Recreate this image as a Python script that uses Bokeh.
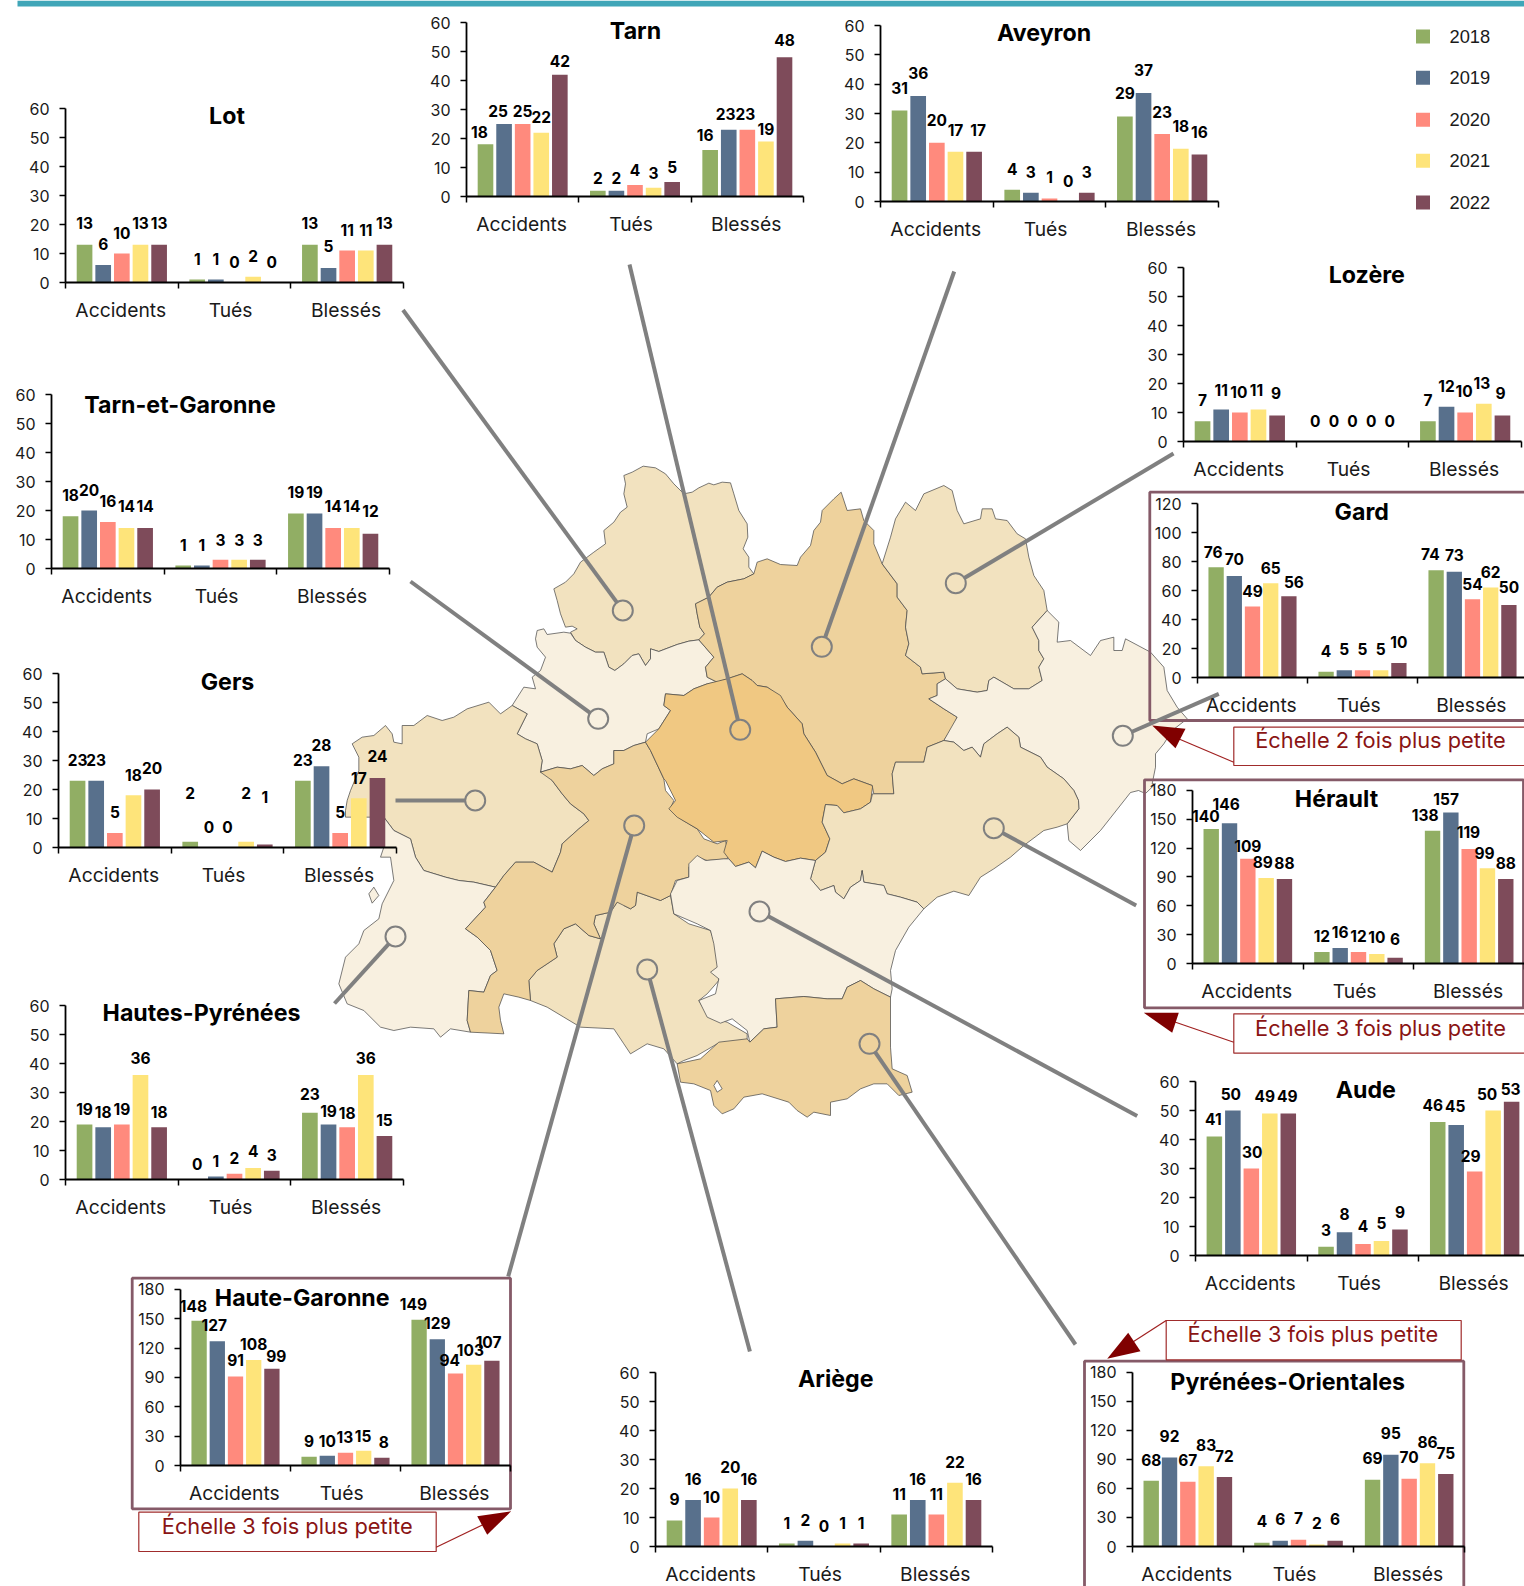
from bokeh.embed import file_html
from bokeh.resources import INLINE
from bokeh.layouts import column
from bokeh.plotting import figure
from bokeh.models import (ColumnDataSource, FixedTicker, Label, LabelSet, Range1d)
from bokeh.core.properties import value

CATEGORIES = ["Accidents", "Tués", "Blessés"]
YEARS = ["2018", "2019", "2020", "2021", "2022"]
YEAR_COLORS = ["#91AE64", "#58708C", "#FF8A7D", "#FEE47A", "#7E4B5A"]

LOT_A = [13, 6, 10, 13, 13];      LOT_T = [1, 1, 0, 2, 0];        LOT_B = [13, 5, 11, 11, 13]
TARN_A = [18, 25, 25, 22, 42];    TARN_T = [2, 2, 4, 3, 5];       TARN_B = [16, 23, 23, 19, 48]
AVEY_A = [31, 36, 20, 17, 17];    AVEY_T = [4, 3, 1, 0, 3];       AVEY_B = [29, 37, 23, 18, 16]
LOZE_A = [7, 11, 10, 11, 9];      LOZE_T = [0, 0, 0, 0, 0];       LOZE_B = [7, 12, 10, 13, 9]
TEGA_A = [18, 20, 16, 14, 14];    TEGA_T = [1, 1, 3, 3, 3];       TEGA_B = [19, 19, 14, 14, 12]
GERS_A = [23, 23, 5, 18, 20];     GERS_T = [2, 0, 0, 2, 1];       GERS_B = [23, 28, 5, 17, 24]
HAPY_A = [19, 18, 19, 36, 18];    HAPY_T = [0, 1, 2, 4, 3];       HAPY_B = [23, 19, 18, 36, 15]
GARD_A = [76, 70, 49, 65, 56];    GARD_T = [4, 5, 5, 5, 10];      GARD_B = [74, 73, 54, 62, 50]
HERA_A = [140, 146, 109, 89, 88]; HERA_T = [12, 16, 12, 10, 6];   HERA_B = [138, 157, 119, 99, 88]
AUDE_A = [41, 50, 30, 49, 49];    AUDE_T = [3, 8, 4, 5, 9];       AUDE_B = [46, 45, 29, 50, 53]
HAGA_A = [148, 127, 91, 108, 99]; HAGA_T = [9, 10, 13, 15, 8];    HAGA_B = [149, 129, 94, 103, 107]
ARIE_A = [9, 16, 10, 20, 16];     ARIE_T = [1, 2, 0, 1, 1];       ARIE_B = [11, 16, 11, 22, 16]
PYOR_A = [68, 92, 67, 83, 72];    PYOR_T = [4, 6, 7, 2, 6];       PYOR_B = [69, 95, 70, 86, 75]

# layout of the value labels: height above the bar and sideways shift, in pixels
LABEL_DY = {
    "Lot": [22, 21, 21, 22, 22, 21, 21, 21, 21, 21, 22, 22, 21, 21, 22],
    "Tarn": [12, 13, 13, 16, 14, 13, 13, 15, 15, 15, 15, 16, 16, 12.5, 17],
    "Aveyron": [23, 23, 23, 22, 22, 20.5, 21, 22, 21, 21, 23, 23, 22, 23, 23],
    "Lozère": [21, 20, 21, 20, 22, 21, 21, 21, 21, 21, 21, 21, 22, 21, 22],
    "Tarn-et-Garonne": [21, 21, 21, 22, 22, 21, 21, 20, 20, 20, 21.5, 21.5, 22, 22, 22.5],
    "Gers": [21, 21, 21, 20, 22, 49, 21, 21, 49, 48, 21, 21, 21, 20, 22],
    "Hautes-Pyrénées": [15.5, 15, 15.5, 17, 15, 16, 16, 16, 16.5, 16, 19, 13.5, 14, 17, 16],
    "Gard": [15.3, 16.7, 15, 15.7, 14, 21, 21.7, 21.7, 21.7, 21, 16, 16.7, 15, 16, 18],
    "Hérault": [13, 18.7, 12.3, 16, 15.7, 16.3, 16, 16, 16.7, 18.7, 16.3, 14, 16.7, 15, 15.7],
    "Aude": [17.5, 16.7, 17, 17.5, 17.5, 17, 18, 17.5, 17.7, 17, 17, 19, 15, 16.7, 13],
    "Haute-Garonne": [14.3, 16.3, 16.7, 16, 12.3, 15.3, 15, 15.7, 15.3, 15.3, 15.7, 16, 13.7, 14.3, 18.7],
    "Ariège": [21, 21, 21, 22, 21, 21, 21, 21, 21, 21, 20.5, 21, 20.5, 21, 21],
    "Pyrénées-Orientales": [20.7, 21.7, 21.3, 21.7, 21, 21.7, 21.7, 21.3, 21.7, 21.7, 21.3, 21.7, 21.7, 21, 20.7],
}
LABEL_DX = {
    "Tarn": {0: -6, 1: -6, 10: -5, 11: -3, 12: -2},
    "Aveyron": {4: 4},
    "Lozère": {2: -1, 3: -2, 4: -1, 12: -1, 13: -2, 14: -2},
    "Gard": {0: -3, 4: 5, 10: -5.7},
    "Hérault": {0: -5.3, 1: -3.3, 3: -3.3, 10: -7.3, 11: -4.7, 12: -0.7, 13: -3},
    "Aude": {0: -1, 1: -2, 2: 1, 3: -5, 4: -1, 10: -5, 11: -1, 12: -4, 13: -6, 14: -1},
    "Haute-Garonne": {0: -5.7, 1: -3, 4: 4.3, 7: -0.7, 8: -0.7, 9: 2, 10: -5.7, 12: -5.7, 13: -3.3, 14: -3.3},
}

Z1, Z2, Z3, Z4 = (330, 450), (780, 450), (330, 780), (660, 780)
def z(o, pts):
    return [(o[0] + a / 3, o[1] + b / 3) for a, b in pts]

LOT_SHAPE = z(Z1, [(880,75),(905,65),(938,47),(975,52),(1005,70),(1030,100),(1060,130),(1085,125),(1105,112),(1135,98),(1150,103),(1175,95),(1200,97),(1210,130),(1225,180),(1250,220),(1252,260),(1238,295),(1255,320),(1255,350),(1270,370),(1240,385),(1190,395),(1160,410),(1135,440),(1095,460),(1100,490),(1108,530),(1122,550),(1105,568),(1075,572),(1040,582),(1000,597),(985,603),(960,595),(960,625),(945,645),(925,610),(905,615),(880,640),(853,660),(835,650),(820,605),(795,605),(765,590),(735,570),(720,545),(740,535),(725,527),(705,530),(690,490),(680,450),(670,415),(705,395),(730,370),(750,335),(790,305),(825,280),(820,240),(850,215),(870,185),(890,170),(880,130),(885,100)])
TEGA_SHAPE = z(Z1, [(620,540),(640,535),(650,552),(700,545),(720,548),(735,570),(765,590),(795,605),(820,605),(835,650),(853,660),(880,640),(905,615),(925,610),(945,645),(960,625),(960,595),(985,603),(1040,582),(1075,572),(1105,568),(1150,620),(1125,650),(1130,680),(1160,695),(1130,700),(1090,715),(1060,735),(1005,730),(1000,765),(1020,780),(985,835),(950,850),(945,875),(910,885),(880,900),(850,900),(850,940),(815,955),(790,975),(755,945),(720,955),(680,950),(630,965),(635,930),(620,880),(585,865),(560,850),(590,790),(545,765),(580,710),(615,715),(605,680),(630,660),(645,620),(620,590),(615,565)])
TARN_SHAPE = z(Z1, [(1005,730),(1060,735),(1090,715),(1130,700),(1190,685),(1235,670),(1265,690),(1280,705),(1310,710),(1350,735)]) + z(Z2, [(20,770),(65,820),(70,850),(105,905),(140,975),(185,1000),(220,985),(275,1005)]) + z(Z4, [(636,20),(630,65),(600,85),(550,97),(530,75),(495,72),(485,125),(508,175),(495,215),(465,240),(420,233),(375,243),(340,230),(305,212),(285,262),(265,245),(225,258),(205,235),(190,215),(200,180),(160,185),(110,145),(50,110),(25,85),(45,60),(25,20),(15,0)]) + z(Z1, [(1000,985),(960,900),(945,875),(985,835),(1020,780),(1000,765)])
AVEY_SHAPE = z(Z1, [(1270,370),(1280,335),(1310,325),(1350,342)]) + z(Z2, [(50,345),(60,320),(90,285),(100,240),(120,215),(125,180),(160,145),(182,125),(200,180),(240,175),(250,210),(280,240),(280,280),(305,340),(350,400),(350,440),(380,480),(375,530),(385,580),(375,615),(420,650),(425,670),(490,665),(495,685),(470,700),(470,735),(445,745),(490,775),(530,800),(520,825),(490,870),(440,890),(430,935),(345,935),(335,970),(340,1030),(280,1030),(275,1005),(220,985),(185,1000),(140,975),(105,905),(70,850),(65,820),(20,770),(0,740)]) + z(Z1, [(1310,710),(1280,705),(1265,690),(1235,670),(1190,685),(1160,695),(1130,680),(1125,650),(1150,620),(1105,568),(1122,550),(1108,530),(1100,490),(1095,460),(1135,440),(1160,410),(1190,395),(1240,385)])
LOZE_SHAPE = z(Z2, [(305,340),(330,260),(345,205),(375,155),(405,180),(430,130),(490,105),(515,120),(530,180),(550,220),(600,205),(605,175),(635,175),(645,205),(680,210),(710,250),(735,265),(745,320),(760,375),(790,420),(800,480),(755,530),(775,570),(775,600),(790,625),(775,650),(785,690),(745,715),(700,715),(640,680),(625,690),(620,720),(590,725),(530,715),(495,685),(490,665),(425,670),(420,650),(375,615),(385,580),(375,530),(380,480),(350,440),(350,400)])
GARD_SHAPE = z(Z2, [(800,480),(835,515),(830,575),(870,570),(930,615),(960,570),(1000,560),(1000,600),(1025,600),(1035,565),(1110,605),(1150,650),(1160,720),(1190,770),(1220,805),(1175,840),(1150,880),(1125,910),(1125,950),(1115,1000)]) + z(Z4, [(1485,10),(1455,39),(1434,30),(1410,36),(1320,150),(1260,210),(1225,180),(1220,130),(1255,85),(1254,60)]) + z(Z2, [(880,1020),(850,985),(800,950),(780,920),(720,890),(715,860),(680,830),(650,850),(610,880),(600,920),(575,890),(550,900),(520,875),(490,870),(530,800),(490,775),(445,745),(470,735),(470,700),(495,685),(530,715),(590,725),(620,720),(625,690),(640,680),(700,715),(745,715),(785,690),(775,650),(790,625),(775,600),(775,570),(755,530)])
HERA_SHAPE = z(Z2, [(490,870),(520,875),(550,900),(575,890),(600,920),(610,880),(650,850),(680,830),(715,860),(720,890),(780,920),(800,950),(850,985),(880,1020)]) + z(Z4, [(1254,60),(1255,85),(1220,130),(1190,140),(1150,150),(1090,195),(1050,230),(1000,265),(960,290),(925,345),(880,332),(830,350),(790,385),(770,365),(720,350),(680,340),(670,315),(610,305),(605,270),(600,300),(570,320),(550,355),(525,335),(520,315),(480,330),(450,295),(465,240),(495,215),(508,175),(485,125),(495,72),(530,75),(550,97),(600,85),(630,65),(636,40),(700,40)]) + z(Z2, [(335,970),(345,935),(430,935),(440,890)])
AUDE_SHAPE = z(Z4, [(30,340),(50,300),(85,290),(85,250),(110,225),(135,240),(190,235),(205,235),(225,258),(265,245),(285,262),(305,212),(340,230),(375,243),(420,233),(465,240),(450,295),(480,330),(520,315),(525,335),(550,355),(570,320),(600,300),(605,270),(610,305),(670,315),(680,340),(720,350),(770,365),(790,385),(745,440),(705,510),(690,570),(695,625),(690,650),(640,625),(600,600),(560,620),(545,655),(500,655),(430,648),(345,655),(350,740),(310,745),(268,785),(260,750),(215,715),(180,728),(140,710),(115,660),(165,640),(175,595),(150,575),(170,560),(160,490),(150,450),(110,430),(40,400)])
PYOR_SHAPE = z(Z4, [(50,850),(120,835),(175,785),(260,775),(268,785),(310,745),(350,740),(345,655),(430,648),(500,655),(545,655),(560,620),(600,600),(640,625),(690,650),(690,800),(695,865),(740,885),(755,935),(715,945),(680,910),(640,910),(600,925),(560,955),(510,965),(510,1005),(460,995),(440,1010),(410,990),(385,965),(305,940),(250,950),(220,985),(185,1000),(160,975),(150,930),(100,910),(60,905)])
PYOR_HOLE = z(Z4, [(160,915),(170,900),(185,925),(170,935)])
ARIE_SHAPE = z(Z3, [(595,600),(620,570),(680,530),(670,490),(700,445),(735,430),(775,465),(810,475),(790,430),(795,405),(840,395),(860,365),(825,340),(845,315),(875,345),(880,375),(900,385),(915,375),(920,335),(990,360),(1020,345),(1030,400),(1075,430),(1140,450),(1160,510),(1165,600),(1130,640),(1105,660),(1135,710),(1190,725),(1250,760),(1250,780),(1160,790),(1100,825),(1060,840),(1040,850),(1000,805),(950,790),(900,820),(880,790),(850,745),(750,740),(700,710),(650,680),(600,660)])
HAGA_SHAPE = z(Z1, [(630,965),(680,950),(720,955),(755,945),(790,975),(815,955),(850,940),(850,900),(880,900),(910,885),(945,875),(960,900),(1000,985)]) + z(Z3, [(1005,30),(1030,60),(1020,85),(1050,115),(1100,145),(1120,175),(1160,190),(1185,180),(1195,225),(1190,235),(1130,240),(1100,230),(1075,260),(1075,290),(1035,300),(1020,345),(990,360),(920,335),(915,375),(900,385),(880,375),(860,365),(840,395),(795,405),(790,430),(810,475),(775,465),(735,430),(700,445),(670,490),(680,530),(620,570),(595,600),(600,660),(565,650),(520,640),(505,680),(510,720),(520,760),(420,755),(410,720),(415,630),(460,635),(480,585),(500,570),(480,510),(440,470),(405,445),(465,380),(460,365),(495,320),(520,285),(555,245),(610,245),(665,275),(690,215),(695,190),(745,145),(775,120),(760,100),(720,70),(695,40),(665,0)])
GERS_SHAPE = z(Z1, [(545,765),(510,790),(475,755),(410,775),(370,800),(335,810),(290,795),(250,825),(215,825),(215,880),(190,875),(185,850),(165,825),(130,855),(95,860),(65,880),(85,920),(85,960),(60,1020),(50,1050)]) + z(Z3, [(45,90),(45,110),(160,110),(190,150),(240,175),(255,230),(280,270),(345,290),(385,300),(430,305),(495,320),(520,285),(555,245),(610,245),(665,275),(690,215),(695,190),(745,145),(775,120),(760,100),(720,70),(695,40),(665,0)]) + z(Z1, [(650,965),(630,965),(635,930),(620,880),(585,865),(560,850),(590,790)])
HAPY_SHAPE = z(Z3, [(160,110),(190,150),(240,175),(255,230),(280,270),(345,290),(385,300),(430,305),(495,320),(460,365),(465,380),(405,445),(440,470),(480,510),(500,570),(480,585),(460,635),(415,630),(410,720),(420,755),(360,745),(330,770),(310,745),(240,740),(190,750),(150,740),(100,690),(50,670),(25,610),(45,530),(85,490),(100,450),(145,415),(155,370),(190,300),(180,230),(150,230),(160,200)])
HAPY_ISLET = z(Z3, [(115,340),(130,320),(145,345),(125,368)])

PALE, MID, DEEP, DARK = "#F8F0E0", "#F2E2BF", "#EED29D", "#F0C882"
MAP_SHAPES = [(LOT_SHAPE, MID), (TEGA_SHAPE, PALE), (AVEY_SHAPE, DEEP), (LOZE_SHAPE, MID),
              (GERS_SHAPE, MID), (HAPY_SHAPE, PALE), (HAPY_ISLET, PALE), (ARIE_SHAPE, MID), (HAGA_SHAPE, DEEP),
              (TARN_SHAPE, DARK), (GARD_SHAPE, PALE), (HERA_SHAPE, MID), (AUDE_SHAPE, PALE),
              (PYOR_SHAPE, DEEP), (PYOR_HOLE, "#FFFFFF")]

# name, A, T, B, axis x, axis width, y of 0, y of top, max, step, title centre, pin, leader end
CHARTS = [
    ("Lot", LOT_A, LOT_T, LOT_B, 65, 338, 282, 108, 60, 10, (226.5, 115.3), (622.3, 610), (402.5, 309.5)),
    ("Tarn", TARN_A, TARN_T, TARN_B, 466, 337, 195.5, 21.5, 60, 10, (635, 30.3), (739.7, 729.3), (629, 264)),
    ("Aveyron", AVEY_A, AVEY_T, AVEY_B, 880, 338, 200.5, 24.5, 60, 10, (1043.6, 32.4), (821.3, 646.3), (953.7, 271)),
    ("Lozère", LOZE_A, LOZE_T, LOZE_B, 1183, 338, 441, 267, 60, 10, (1366.3, 274), (955.3, 582.7), (1173, 453)),
    ("Tarn-et-Garonne", TEGA_A, TEGA_T, TEGA_B, 50.5, 338, 567.5, 393.5, 60, 10, (179, 403.5), (597.7, 718.3), (410, 581)),
    ("Gers", GERS_A, GERS_T, GERS_B, 57.5, 338, 846.5, 672.5, 60, 10, (226.5, 680.6), (474.7, 800), (395, 800)),
    ("Hautes-Pyrénées", HAPY_A, HAPY_T, HAPY_B, 65, 338, 1179, 1005, 60, 10, (201, 1012.3), (395, 936), (334, 1003)),
    ("Gard", GARD_A, GARD_T, GARD_B, 1197, 330, 676.7, 502.7, 120, 20, (1361.3, 511), (1122.3, 735.3), (1218.3, 693.3)),
    ("Hérault", HERA_A, HERA_T, HERA_B, 1192, 332, 963.3, 790, 180, 30, (1336, 798.3), (993.3, 827.7), (1135.7, 905)),
    ("Aude", AUDE_A, AUDE_T, AUDE_B, 1195, 335, 1255, 1081, 60, 10, (1365.3, 1089), (759, 911), (1136.7, 1115.5)),
    ("Haute-Garonne", HAGA_A, HAGA_T, HAGA_B, 180, 330, 1464.7, 1288.5, 180, 30, (301.7, 1296.7), (633.7, 825), (507.7, 1276)),
    ("Ariège", ARIE_A, ARIE_T, ARIE_B, 655, 337, 1545.5, 1371.5, 60, 10, (835.3, 1378.4), (646.7, 969), (749.4, 1351)),
    ("Pyrénées-Orientales", PYOR_A, PYOR_T, PYOR_B, 1131.7, 331.5, 1546, 1371.7, 180, 30, (1286.7, 1381.7), (869, 1043.3), (1075, 1344)),
]
FRAME_BOXES = [(1149.3, 491.7, 1530, 720), (1144, 779.3, 1523, 1007.3), (131.7, 1277.7, 510, 1508.3), (1084, 1360.7, 1463.3, 1600)]
NOTES = ["Échelle 2 fois plus petite", "Échelle 3 fois plus petite", "Échelle 3 fois plus petite", "Échelle 3 fois plus petite"]
NOTE_BOXES = [(1233.3, 726.7, 1530, 765), (1233.3, 1013.3, 1530, 1052.7), (138.3, 1511.7, 435.7, 1551), (1165.7, 1320, 1460.7, 1359.3)]
NOTE_TEXT_AT = [(1380, 739), (1380, 1027.3), (286.7, 1525), (1312.3, 1333)]
NOTE_WIRES = [((1233.3, 761.7), (1175, 737)), ((1233.3, 1041.7), (1170, 1020)), ((435.7, 1546.7), (485, 1523)), ((1165.7, 1320), (1130, 1343))]
NOTE_ARROWS = [[(1151.7, 725), (1185, 728.3), (1175, 747.7)], [(1143.3, 1012.3), (1178.3, 1012.3), (1171.7, 1032.3)],
               [(510.7, 1510.7), (476.7, 1515.7), (486.7, 1534.3)], [(1106.7, 1358.3), (1140, 1350.7), (1127.7, 1332.3)]]

FONT = "Inter"
W, H = 1524, 1586
main = figure(width=W, height=H, x_range=Range1d(0, W), y_range=Range1d(H, 0), toolbar_location=None,
              output_backend="svg", min_border=0, min_border_left=0, min_border_right=0, min_border_top=0,
              min_border_bottom=0, outline_line_color=None, x_axis_location=None, y_axis_location=None,
              frame_align=False, styles={"position": "absolute", "left": "0px", "top": "0px"})
main.grid.visible = False

main.quad(left=[17], right=[W], top=[0], bottom=[6], fill_color="#40A6B8", line_color=None)
main.patches([[p[0] for p in s] for s, _ in MAP_SHAPES], [[p[1] for p in s] for s, _ in MAP_SHAPES],
             fill_color=[c for _, c in MAP_SHAPES], line_color="#444444", line_width=0.7)
main.quad(left=[b[0] for b in FRAME_BOXES], top=[b[1] for b in FRAME_BOXES], right=[b[2] for b in FRAME_BOXES],
          bottom=[b[3] for b in FRAME_BOXES], fill_color=None, line_color="#855A68", line_width=2.8)

seg_x, seg_y, pin_x, pin_y = [], [], [], []
for c in CHARTS:
    pin, end = c[11], c[12]
    dx, dy = end[0] - pin[0], end[1] - pin[1]
    d = (dx * dx + dy * dy) ** 0.5
    seg_x.append([pin[0] + dx / d * 10, end[0]])
    seg_y.append([pin[1] + dy / d * 10, end[1]])
    pin_x.append(pin[0])
    pin_y.append(pin[1])
main.multi_line(seg_x, seg_y, line_color="#808080", line_width=4)
main.scatter(pin_x, pin_y, marker="circle", size=20, fill_color=None, line_color="#808080", line_width=2)

main.quad(left=[b[0] for b in NOTE_BOXES], top=[b[1] for b in NOTE_BOXES], right=[b[2] for b in NOTE_BOXES],
          bottom=[b[3] for b in NOTE_BOXES], fill_color="#FFFFFF", line_color="#A02C2C", line_width=1.2)
main.multi_line([[a[0], b[0]] for a, b in NOTE_WIRES], [[a[1], b[1]] for a, b in NOTE_WIRES], line_color="#A02020", line_width=1.2)
main.patches([[p[0] for p in t] for t in NOTE_ARROWS], [[p[1] for p in t] for t in NOTE_ARROWS],
             fill_color="#800000", line_color=None)
main.text(x=[p[0] for p in NOTE_TEXT_AT], y=[p[1] for p in NOTE_TEXT_AT], text=NOTES,
          text_font=value(FONT), text_font_size="21.8px", text_color="#8A1414", text_align="center", text_baseline="middle")

LEGEND_Y = [36, 77.3, 119.3, 160.3, 202]
main.scatter([1422.5] * 5, LEGEND_Y, marker="square", size=14, fill_color=YEAR_COLORS, line_color=None)
main.text(x=[1449] * 5, y=LEGEND_Y, text=YEARS, text_font=value("Liberation Sans"), text_font_size="18.3px",
          text_color="#1A1A1A", text_align="left", text_baseline="middle")

L, R, T, B, HEAD = 60, 8, 4, 50, 20
BAR_X = [0.5, 1.5, 2.5]
TICK_X = [0.49, 1.465, 2.49]
figs = [main]
for name, a, t, b, x0, cw, y0, ytop, ymax, step, tc, _, _e in CHARTS:
    fh = y0 - ytop
    PITCH, BAR = 18.2 / 110, 15.3 / 110
    top_val = ymax * (1 + HEAD / fh)
    f = figure(width=round(cw) + L + R, height=round(fh) + HEAD + T + B, x_range=Range1d(0, 3), y_range=Range1d(0, top_val),
               toolbar_location=None, output_backend="svg", min_border_left=L, min_border_right=R, min_border_top=T,
               min_border_bottom=B, outline_line_color=None, background_fill_color=None, border_fill_color=None,
               frame_align=False, styles={"position": "absolute", "left": f"{x0 - L}px", "top": f"{ytop - T - HEAD}px"})
    f.grid.visible = False
    dys, dxs = LABEL_DY[name], LABEL_DX.get(name, {})
    for j, (year, color) in enumerate(zip(YEARS, YEAR_COLORS)):
        xs = [BAR_X[i] + (j - 2) * PITCH for i in range(3)]
        tops = [a[j], t[j], b[j]]
        src = ColumnDataSource(dict(x=xs, top=tops, label=[str(v) for v in tops],
                                    dy=[dys[i * 5 + j] for i in range(3)],
                                    dx=[dxs.get(i * 5 + j, 0) for i in range(3)]))
        f.vbar(x="x", top="top", width=BAR, bottom=0, fill_color=color, line_color=None, source=src)
        f.add_layout(LabelSet(x="x", y="top", text="label", source=src, x_offset="dx", y_offset="dy", text_font=value(FONT),
                              text_font_style="bold", text_font_size="15.5px", text_color="#000000",
                              text_align="center", text_baseline="middle"))
    f.xaxis.ticker = FixedTicker(ticks=TICK_X, minor_ticks=[0, 1, 2, 3])
    f.xaxis.major_label_overrides = {x: c for x, c in zip(TICK_X, CATEGORIES)}
    f.xaxis.major_tick_line_color = None
    f.xaxis.major_tick_out = 0
    f.xaxis.major_tick_in = 0
    f.xaxis.minor_tick_out = 6
    f.xaxis.minor_tick_in = 0
    f.xaxis.minor_tick_line_color = "#000000"
    f.xaxis.minor_tick_line_width = 1.5
    f.xaxis.major_label_standoff = 9
    f.xaxis.major_label_text_font = FONT
    f.xaxis.major_label_text_font_size = "19.3px"
    f.xaxis.major_label_text_color = "#1A1A1A"
    f.yaxis.ticker = FixedTicker(ticks=list(range(0, ymax + 1, step)))
    f.yaxis.bounds = (0, ymax)
    f.yaxis.major_tick_out = 6
    f.yaxis.major_tick_in = 0
    f.yaxis.minor_tick_line_color = None
    f.yaxis.major_tick_line_color = "#000000"
    f.yaxis.major_tick_line_width = 1.5
    f.yaxis.major_label_standoff = 10
    f.yaxis.major_label_text_font = FONT
    f.yaxis.major_label_text_font_size = "16px"
    f.yaxis.major_label_text_color = "#1A1A1A"
    for ax in (f.xaxis, f.yaxis):
        ax.axis_line_color = "#000000"
        ax.axis_line_width = 1.8
    f.add_layout(Label(x=(tc[0] - x0) / cw * 3, y=(y0 - tc[1]) / fh * ymax, text=name, text_font=FONT,
                       text_font_style="bold", text_font_size="23.2px", text_color="#000000",
                       text_align="center", text_baseline="middle"))
    figs.append(f)

root = column(*figs, width=W, height=H,
              styles={"position": "absolute", "left": "0px", "top": "0px", "overflow": "hidden"})
open("out.html", "w").write(file_html(root, INLINE))
